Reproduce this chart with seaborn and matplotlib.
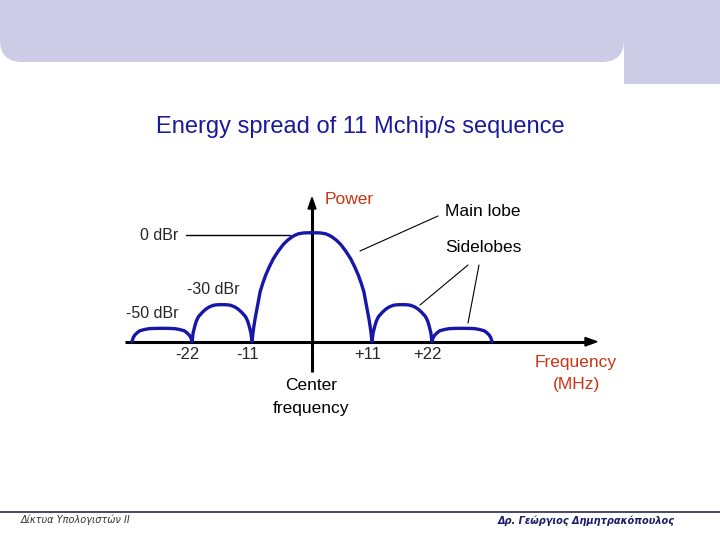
import matplotlib
matplotlib.use("Agg")
import matplotlib.pyplot as plt
import seaborn as sns
import pandas as pd
from matplotlib.patches import FancyBboxPatch, Rectangle, Polygon

# ---- data (frequency offset in MHz, relative level) ----
freq_mhz = [
    -33, -32.8, -32.5, -32.1, -31.6, -30.7, -29.8, -28.7, -27.5, -26.3, -25.2, -24.3, -23.4, -22.9, -22.5, -22.2, -22,
    -22, -21.8, -21.5, -21.2, -20.81, -20.1, -19.43, -18.8, -18.0, -17.3, -16.5, -15.7, -15.0, -14.2, -13.57, -12.9, -12.19, -11.8, -11.5, -11.2, -11,
    -11, -10.8, -10.6, -10.4, -10.1, -9.8, -9.5, -9.0, -8.5, -7.8, -7.1, -6.2, -5.3, -4.5, -3.7, -3.2, -2.5, -1.5, 0,
    1.5, 2.5, 3.2, 3.7, 4.5, 5.3, 6.2, 7.1, 7.8, 8.5, 9.0, 9.5, 9.8, 10.1, 10.4, 10.6, 10.8, 11,
    11, 11.2, 11.5, 11.8, 12.19, 12.9, 13.57, 14.2, 15.0, 15.7, 16.5, 17.3, 18.0, 18.8, 19.43, 20.1, 20.81, 21.2, 21.5, 21.8, 22,
    22, 22.2, 22.5, 22.9, 23.4, 24.3, 25.2, 26.3, 27.5, 28.7, 29.8, 30.7, 31.6, 32.1, 32.5, 32.8, 33]
level = [
    0, 3.5, 6, 8, 10, 11.2, 12, 12.2, 12.3, 12.2, 12, 11.2, 10, 8, 6, 3.5, 0,
    0, 8, 14, 19, 23, 27, 30, 32, 33.5, 33.9, 34, 33.9, 33.5, 32, 30, 27, 23, 19, 14, 8, 0,
    0, 9, 16, 22, 30, 38, 46, 54, 61, 69, 76, 83, 89, 93, 96, 97.5, 99, 99.8, 100,
    99.8, 99, 97.5, 96, 93, 89, 83, 76, 69, 61, 54, 46, 38, 30, 22, 16, 9, 0,
    0, 8, 14, 19, 23, 27, 30, 32, 33.5, 33.9, 34, 33.9, 33.5, 32, 30, 27, 23, 19, 14, 8, 0,
    0, 3.5, 6, 8, 10, 11.2, 12, 12.2, 12.3, 12.2, 12, 11.2, 10, 8, 6, 3.5, 0]
tick_values = [-22, -11, 11, 22]
tick_labels = ["-22", "-11", "+11", "+22"]
level_labels = ["0 dBr", "-30 dBr", "-50 dBr"]

df = pd.DataFrame({"freq": freq_mhz, "level": level})

sns.set_style("white")
plt.rcParams["font.family"] = ["Liberation Sans", "DejaVu Sans"]

W, H = 720, 540
fig = plt.figure(figsize=(7.2, 5.4), dpi=100)

# pixel overlay axes for slide decorations
pa = fig.add_axes([0, 0, 1, 1])
pa.set_xlim(0, W)
pa.set_ylim(H, 0)
pa.axis("off")

band = "#CCCCE6"
pa.add_patch(FancyBboxPatch((0, -60), 624, 122, boxstyle="round,pad=0,rounding_size=22",
                            fc=band, ec="none"))
pa.add_patch(Rectangle((624, 0), 96, 84, fc=band, ec="none"))

# footer
pa.plot([0, 720], [512, 512], color="#3A3A5A", lw=1.3)
pa.text(21, 520, "Δίκτυα Υπολογιστών ΙΙ", fontsize=7, style="italic", color="#333333",
        va="center", ha="left", family=["DejaVu Sans"])
pa.text(675, 521, "Δρ. Γεώργιος Δημητρακόπουλος", fontsize=7, style="italic",
        weight="bold", color="#1A1A66", va="center", ha="right", family=["DejaVu Sans"])

# title
pa.text(360, 127, "Energy spread of 11 Mchip/s sequence", fontsize=17,
        color="#1A1A9A", ha="center", va="center")

red = "#CC3311"
pa.text(325, 200, "Power", fontsize=12.5, color=red, ha="left", va="center")
pa.text(576, 363, "Frequency", fontsize=12.5, color=red, ha="center", va="center")
pa.text(576, 385, "(MHz)", fontsize=12.5, color=red, ha="center", va="center")
pa.text(445, 212, "Main lobe", fontsize=12.5, color="black", ha="left", va="center")
pa.text(445, 248, "Sidelobes", fontsize=12.5, color="black", ha="left", va="center")
pa.text(311, 386, "Center", fontsize=12.5, color="black", ha="center", va="center")
pa.text(311, 408, "frequency", fontsize=12.5, color="black", ha="center", va="center")

pa.text(178, 235, level_labels[0], fontsize=11.5, ha="right", va="center")
pa.text(187, 289, level_labels[1], fontsize=11.5, ha="left", va="center")
pa.text(126, 313, level_labels[2], fontsize=11.5, ha="left", va="center")

# pointer lines
pa.plot([186, 290], [234.5, 234.5], color="black", lw=1)
pa.plot([360, 438], [251, 216], color="black", lw=0.8)
pa.plot([420, 468], [305, 265], color="black", lw=0.8)
pa.plot([468, 479], [323, 265], color="black", lw=0.8)

# axes with arrows
pa.plot([125, 588], [341.7, 341.7], color="black", lw=2.2, solid_capstyle="butt")
pa.add_patch(Polygon([[597, 341.7], [585, 337.5], [585, 346]], closed=True, fc="black", ec="black"))
pa.plot([312, 312], [372, 206], color="black", lw=2.2, solid_capstyle="butt")
pa.add_patch(Polygon([[312, 197.5], [308, 209], [316, 209]], closed=True, fc="black", ec="black"))

# data axes: mapped so that x_px = 312 + f*60/11, y_px = 341.7 - L*1.09
ax = fig.add_axes([0, 0, 1, 1])
ax.patch.set_alpha(0)
sns.lineplot(data=df, x="freq", y="level", ax=ax, sort=False, estimator=None,
             color="#1616A8", lw=2.4, legend=False)
ax.set_xlim(-312 * 11 / 60, (720 - 312) * 11 / 60)
ax.set_ylim((341.7 - 540) / 1.09, 341.7 / 1.09)
ax.axis("off")

for v, t in zip(tick_values, tick_labels):
    ax.text(v - 0.8, -12.2, t, fontsize=12, ha="center", va="center")

fig.savefig("out.png", dpi=100)
